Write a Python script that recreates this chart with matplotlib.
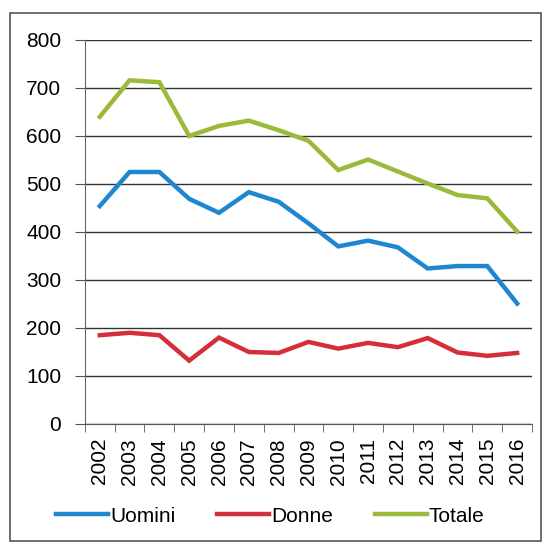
import matplotlib
matplotlib.use("Agg")
import matplotlib.pyplot as plt
from matplotlib.patches import Rectangle
import numpy as np

# Dati
anni = ["2002", "2003", "2004", "2005", "2006", "2007", "2008", "2009",
        "2010", "2011", "2012", "2013", "2014", "2015", "2016"]
uomini = [454, 525, 525, 469, 440, 483, 463, 418, 370, 382, 368, 324, 329, 329, 251]
donne = [185, 190, 185, 132, 180, 150, 148, 171, 157, 169, 160, 179, 149, 142, 148]
totale = [640, 716, 712, 600, 621, 632, 612, 590, 529, 551, 526, 501, 477, 470, 401]

plt.rcParams['font.family'] = ['Liberation Sans', 'DejaVu Sans']

fig = plt.figure(figsize=(5.44, 5.44), dpi=100)
ax = fig.add_axes([0.156, 0.2206, 0.822, 0.7059])

x = np.arange(len(anni))
ax.plot(x, uomini, color='#1f86d0', lw=3.2, label='Uomini', solid_joinstyle='miter')
ax.plot(x, donne, color='#d42e3b', lw=3.2, label='Donne', solid_joinstyle='miter')
ax.plot(x, totale, color='#9cba3a', lw=3.2, label='Totale', solid_joinstyle='miter')

ax.set_xlim(-0.5, len(anni) - 0.5)
ax.set_ylim(0, 800)
ax.set_yticks(range(0, 801, 100))
ax.yaxis.grid(True, color='#333333', lw=1.0)
ax.set_axisbelow(True)

# etichette al centro, tacche tra le categorie (stile Excel)
ax.set_xticks(x)
ax.set_xticklabels(anni, rotation=90, fontsize=15)
ax.set_xticks(np.arange(-0.5, len(anni)), minor=True)
ax.tick_params(axis='x', which='major', length=0, pad=10)
ax.tick_params(axis='x', which='minor', length=6, color='#555555', direction='out')
ax.tick_params(axis='y', length=7, color='#555555', labelsize=15, pad=10)

for s in ['top', 'right']:
    ax.spines[s].set_visible(False)
ax.spines['left'].set_color('#666666')
ax.spines['bottom'].set_color('#555555')

fig.legend(loc='center', bbox_to_anchor=(0.497, 0.051), ncol=3, frameon=False,
           fontsize=15, handlelength=2.5, columnspacing=2.0, handletextpad=0.1)

# cornice
fig.patches.append(Rectangle((0.018, 0.005), 0.976, 0.971, transform=fig.transFigure,
                             fill=False, edgecolor='#555555', lw=1.2))

fig.savefig('out.png', dpi=100)
